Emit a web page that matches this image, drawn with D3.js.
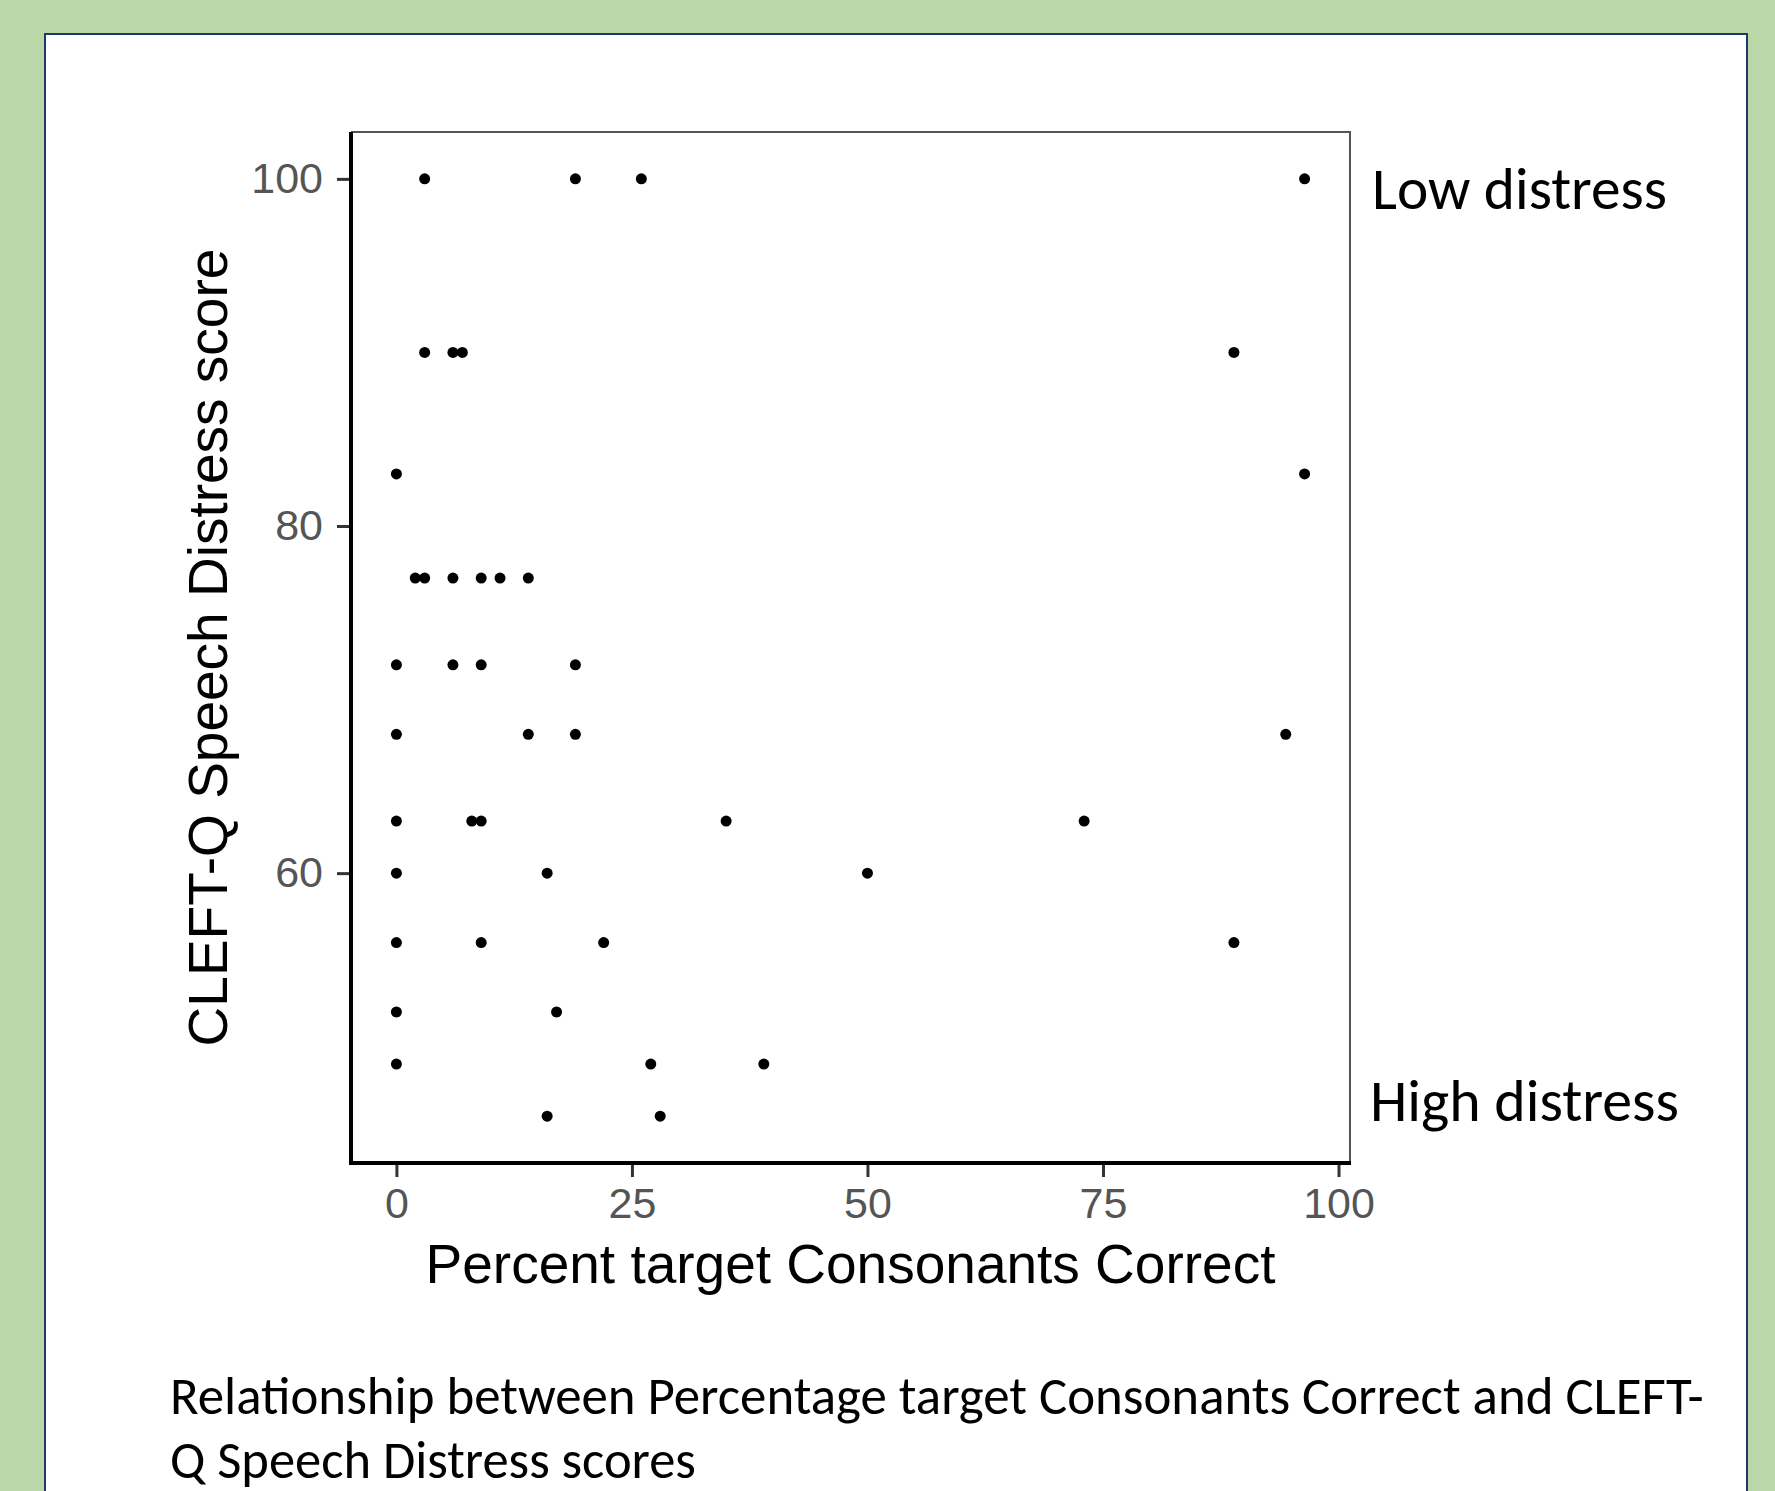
<!DOCTYPE html>
<html>
<head>
<meta charset="utf-8">
<script src="https://cdn.jsdelivr.net/npm/d3@7"></script>
<style>
  body { margin: 0; background: #b9d7a8; }
  svg { display: block; }
</style>
</head>
<body>
<svg id="chart" width="1775" height="1491"></svg>
<script>
// percent target consonants correct (x) and CLEFT-Q speech distress score (y)
var pcc = [3, 19, 26, 96.4,
           3, 6, 7, 88.9,
           0, 96.4,
           2, 3, 6, 9, 11, 14,
           0, 6, 9, 19,
           0, 14, 19, 94.4,
           0, 8, 9, 35, 73,
           0, 16, 50,
           0, 9, 22, 88.9,
           0, 17,
           0, 27, 39,
           16, 28];
var distress = [100, 100, 100, 100,
                90, 90, 90, 90,
                83, 83,
                77, 77, 77, 77, 77, 77,
                72, 72, 72, 72,
                68, 68, 68, 68,
                63, 63, 63, 63, 63,
                60, 60, 60,
                56, 56, 56, 56,
                52, 52,
                49, 49, 49,
                46, 46];
var xTicks = [0, 25, 50, 75, 100];
var yTicks = [60, 80, 100];

var svg = d3.select("#chart");

// green page and white card
svg.append("rect").attr("width", 1775).attr("height", 1491).attr("fill", "#b9d7a8");
svg.append("rect").attr("x", 45).attr("y", 34).attr("width", 1702).attr("height", 1500)
   .attr("fill", "#fff").attr("stroke", "#1f3864").attr("stroke-width", 2);

// panel edges (note: "top" is taken by window.top)
var pLeft = 351, pRight = 1350, pTop = 132, pBottom = 1163;

// ggplot style 5% expansion
function expand(ext) {
    var pad = (ext[1] - ext[0]) * 0.05;
    return [ext[0] - pad, ext[1] + pad];
}
var x = d3.scaleLinear().domain(expand(d3.extent(pcc))).range([pLeft, pRight]);
var y = d3.scaleLinear().domain(expand(d3.extent(distress))).range([pBottom, pTop]);

// thin panel border on top/right
svg.append("path")
   .attr("d", "M" + pLeft + "," + pTop + "H" + pRight + "V" + pBottom)
   .attr("fill", "none").attr("stroke", "#555").attr("stroke-width", 2);

var font = "'Liberation Sans', Arial, sans-serif";

var xAxis = svg.append("g").attr("transform", "translate(0," + pBottom + ")")
   .call(d3.axisBottom(x).tickValues(xTicks).tickSize(14).tickPadding(10).tickFormat(d3.format("d")));
var yAxis = svg.append("g").attr("transform", "translate(" + pLeft + ",0)")
   .call(d3.axisLeft(y).tickValues(yTicks).tickSize(14).tickPadding(14).tickFormat(d3.format("d")));

[xAxis, yAxis].forEach(function(a) {
    a.select(".domain").remove();
    a.selectAll(".tick line").attr("stroke", "#333").attr("stroke-width", 3);
    a.selectAll(".tick text").attr("fill", "#555")
     .style("font-family", font).style("font-size", "43px");
});

// bold axis lines
svg.append("line").attr("x1", pLeft).attr("x2", pLeft).attr("y1", pTop).attr("y2", pBottom + 2)
   .attr("stroke", "#000").attr("stroke-width", 4);
svg.append("line").attr("x1", pLeft - 2).attr("x2", pRight + 1).attr("y1", pBottom).attr("y2", pBottom)
   .attr("stroke", "#000").attr("stroke-width", 4);

// points
svg.append("g").selectAll("circle")
   .data(pcc.map(function(d, i) { return [d, distress[i]]; }))
   .join("circle")
   .attr("cx", function(d) { return x(d[0]); })
   .attr("cy", function(d) { return y(d[1]); })
   .attr("r", 5.5)
   .attr("fill", "#000");

// axis titles
svg.append("text").attr("x", (pLeft + pRight) / 2).attr("y", 1283)
   .attr("text-anchor", "middle").style("font-family", font).style("font-size", "55px")
   .text("Percent target Consonants Correct");
svg.append("text").attr("transform", "translate(227," + (pTop + pBottom) / 2 + ") rotate(-90)")
   .attr("text-anchor", "middle").style("font-family", font).style("font-size", "55px")
   .text("CLEFT-Q Speech Distress score");

// Calibri-like annotation text, sized to its width in the picture
var cal = "Carlito, Calibri, Lato, 'Open Sans', sans-serif";
function fitText(xp, yp, w, txt) {
    var t = svg.append("text").attr("x", xp).attr("y", yp)
       .style("font-family", cal).style("font-size", "50px").attr("fill", "#000").text(txt);
    var len = t.node().getComputedTextLength();
    t.style("font-size", (50 * w / len) + "px");
    return t;
}
fitText(1372, 209, 295, "Low distress");
fitText(1370, 1121, 309, "High distress");
fitText(170, 1414, 1534, "Relationship between Percentage target Consonants Correct and CLEFT-");
fitText(170, 1478, 526, "Q Speech Distress scores");
</script>
</body>
</html>
